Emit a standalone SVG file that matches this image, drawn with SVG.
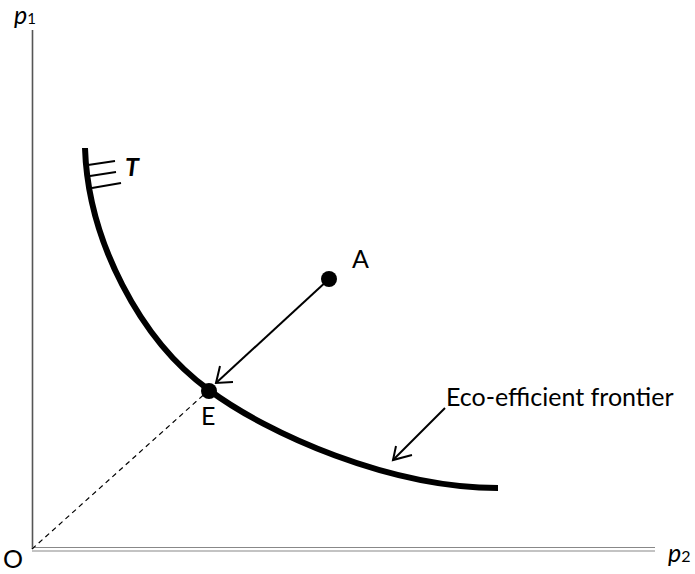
<svg xmlns="http://www.w3.org/2000/svg" width="695" height="574" viewBox="0 0 695 574">
<style>
text{font-family:Lato,"Open Sans","Liberation Sans",sans-serif;font-size:25px;fill:#000}
.ax{stroke:#555;stroke-width:1.6;fill:none}
.ax2{stroke:#888;stroke-width:1.2;fill:none}
.arr{stroke:#000;stroke-width:2;fill:none}
</style>
<g id="axes">
<line class="ax" x1="32.5" y1="30" x2="32.5" y2="549"/>
<line class="ax2" x1="32" y1="547.5" x2="655" y2="547.5"/>
<line class="ax2" x1="32" y1="551" x2="655" y2="551"/>
<text x="14" y="24" font-size="22"><tspan font-style="italic">p</tspan><tspan font-size="15">1</tspan></text>
<text x="668" y="562" font-size="24"><tspan font-style="italic">p</tspan><tspan font-size="16">2</tspan></text>
<text x="3" y="568" font-size="23">O</text>
</g>
<g id="frontier">
<path d="M85,148 C88,240 140,340 209,390 C268,434 390,488 498,488" stroke="#000" stroke-width="6" fill="none"/>
<line x1="88" y1="165" x2="115" y2="161" stroke="#000" stroke-width="2"/>
<line x1="90" y1="176" x2="116" y2="172" stroke="#000" stroke-width="2"/>
<line x1="92" y1="188" x2="121" y2="183" stroke="#000" stroke-width="2"/>
<text x="125" y="176" font-size="22" font-weight="bold" font-style="italic">T</text>
</g>
<g id="connectors">
<line x1="32" y1="549" x2="209" y2="390" stroke="#000" stroke-width="1.2" stroke-dasharray="5,4"/>
<line class="arr" x1="329" y1="279" x2="216" y2="383"/>
<polyline class="arr" points="220,366 216,383 233,382"/>
<line class="arr" x1="445" y1="408" x2="393" y2="460"/>
<polyline class="arr" points="396,446 393,460 412,455"/>
</g>
<g id="A">
<circle cx="329" cy="279" r="8" fill="#000"/>
<text x="352" y="268">A</text>
</g>
<g id="E">
<circle cx="209" cy="391" r="8" fill="#000"/>
<text x="201" y="425">E</text>
</g>
<g id="label">
<text x="446" y="406">Eco-efficient frontier</text>
</g>
</svg>
